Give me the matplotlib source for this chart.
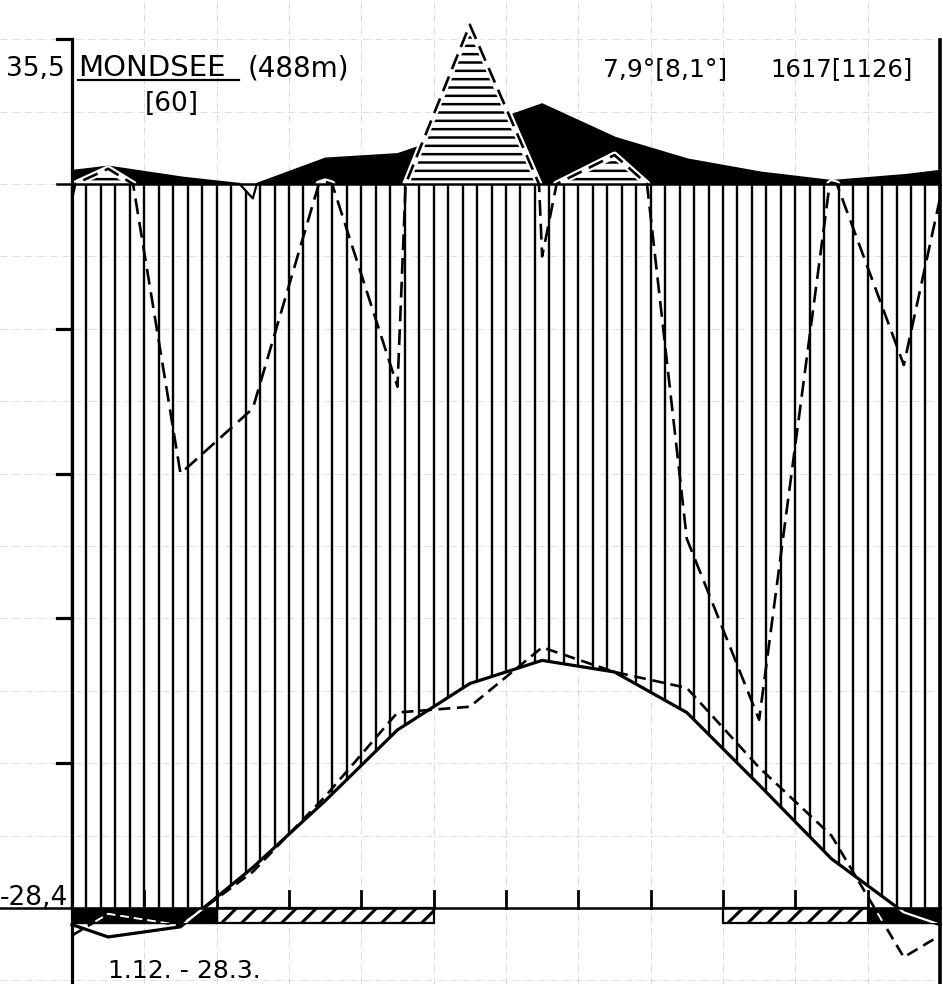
import numpy as np
import matplotlib
matplotlib.use("Agg")
import matplotlib.pyplot as plt
from matplotlib.patches import Rectangle

# ---------------- data ----------------
months = ["J", "F", "M", "A", "M", "J", "J", "A", "S", "O", "N", "D"]
temp_mean = [-2.0, -1.3, 2.8, 7.4, 12.3, 15.5, 17.1, 16.3, 13.5, 8.5, 3.4, -0.3]   # solid
temp_year = [-0.4, -1.2, 2.5, 7.7, 13.5, 13.9, 18.0, 16.3, 15.2, 9.7, 5.0, -3.4]  # dashed
prec_mean = [124, 109, 98, 135, 141, 175, 210, 164, 134, 116, 104, 112]            # solid / black
prec_year = [121, 60, 69, 103, 72, 320, 90, 140, 51, 26, 102, 75]                   # dashed
frost_black_months = [0, 1, 11]          # mean daily minimum below 0
frost_hatched_months = [2, 3, 4, 9, 10]  # absolute minimum below 0

station = "MONDSEE"
elevation = "(488m)"
years = "[60]"
temp_label = "7,9°[8,1°]"
prec_label = "1617[1126]"
abs_max = "35,5"
abs_min = "-28,4"
frost_period = "1.12. - 28.3."

plt.rcParams["font.family"] = ["DejaVu Sans"]

# ---------------- helpers ----------------
PXM = 72.33   # px per month
PXT = 14.48   # px per degree


def X(px):
    return (px - 72) / PXM


def Y(py):
    return (908 - py) / PXT


def pscale(p):
    p = np.asarray(p, float)
    return np.where(p <= 100, p / 2.0, 50 + (p - 100) / 20.0)


def ext(v):
    v = np.asarray(v, float)
    edge = (v[0] + v[-1]) / 2
    return np.r_[edge, v, edge]


xm = np.r_[0, np.arange(12) + 0.5, 12]
T_m = ext(temp_mean)
T_y = ext(temp_year)

xf = np.linspace(0, 12, 4801)
P_m_f = pscale(np.interp(xf, xm, ext(prec_mean)))   # interpolate in mm, then scale
P_y_f = pscale(np.interp(xf, xm, ext(prec_year)))

fig = plt.figure(figsize=(9.43, 9.84), dpi=100)
ax = fig.add_axes([0, 0, 1, 1])
ax.set_xlim(X(0), X(943))
ax.set_ylim(Y(984), Y(0))
ax.axis("off")

# faint background grid (paper grid of the scan)
gls = (0, (8, 3, 1, 3))
for m in range(1, 12):
    ax.plot([m, m], [Y(984), Y(0)], color="#d2d2d2", lw=0.6, ls=gls, zorder=0.5)
for t in range(-5, 61, 5):
    ax.plot([X(0), 12], [t, t], color="#d8d8d8", lw=0.6, ls=gls, zorder=0.5)

# vertical hatching (humid period)
xh = np.arange(0, 12.0001, 0.2)
bot = np.maximum(np.interp(xh, xm, T_m), 0)
top = np.minimum(np.interp(xh, xf, P_m_f), 50)
mask = top > bot
ax.vlines(xh[mask], bot[mask], top[mask], color="k", lw=1.7, zorder=2)

# black precipitation > 100 mm
ax.fill_between(xf, 50, np.maximum(P_m_f, 50), color="k", lw=0, zorder=3)
ax.plot(xf, P_m_f, color="k", lw=1.6, zorder=3.5)

# dashed (single-year) precipitation, horizontally hatched above 100 mm
plt.rcParams["hatch.linewidth"] = 1.8
ax.fill_between(xf, 50, np.maximum(P_y_f, 50), where=P_y_f > 50, interpolate=True,
                facecolor="white", edgecolor="k", hatch="--", lw=0, zorder=4)
halo, = ax.plot(xf, P_y_f, color="white", lw=5, zorder=4.5)
halo.set_clip_path(Rectangle((-1, 50), 14, 20, transform=ax.transData))
ax.plot(xf, P_y_f, color="k", lw=1.9, ls=(0, (6, 3)), zorder=5)

# temperature curves
ax.plot(xm, T_m, color="k", lw=2.3, zorder=6)
ax.plot(xm, T_y, color="k", lw=1.9, ls=(0, (4.5, 2.5)), zorder=6)


# frost bars below the zero line
def runs(idx):
    idx = sorted(idx)
    out = []
    for i in idx:
        if out and out[-1][1] == i:
            out[-1][1] = i + 1
        else:
            out.append([i, i + 1])
    return out


BAR_H = 1.03
stripe_step = 20 / PXM
stripe_dx = 15 / PXM
for a, b in runs(frost_hatched_months):
    ax.add_patch(Rectangle((a, -BAR_H), b - a, BAR_H, facecolor="white",
                           edgecolor="none", zorder=7))
    clip = Rectangle((a, -BAR_H), b - a, BAR_H, transform=ax.transData)
    for x0 in np.arange(a - stripe_dx, b, stripe_step):
        ln, = ax.plot([x0, x0 + stripe_dx], [-BAR_H, 0], color="k", lw=2.2,
                      zorder=7.2, solid_capstyle="butt")
        ln.set_clip_path(clip)
    ax.add_patch(Rectangle((a, -BAR_H), b - a, BAR_H, facecolor="none",
                           edgecolor="k", lw=1.6, zorder=7.4))
for a, b in runs(frost_black_months):
    ax.add_patch(Rectangle((a, -BAR_H), b - a, BAR_H, facecolor="k",
                           edgecolor="k", lw=1.0, zorder=7.5))
    clip = Rectangle((a, -BAR_H), b - a, BAR_H, transform=ax.transData)
    l1, = ax.plot(xm, T_m, color="white", lw=1.6, zorder=8)
    l2, = ax.plot(xm, T_y, color="white", lw=1.4, ls=(0, (4.5, 2.5)), zorder=8)
    l1.set_clip_path(clip)
    l2.set_clip_path(clip)

# axes frame
ax.plot([0, 0], [Y(984), 60], color="k", lw=2.3, zorder=9)
ax.plot([12, 12], [Y(984), Y(40)], color="k", lw=2.6, zorder=9)
ax.plot([X(0), 12], [0, 0], color="k", lw=1.8, zorder=9)
ax.plot([X(57), 12], [50, 50], color="k", lw=1.8, zorder=9)
for t in [10, 20, 30, 40, 60]:
    ax.plot([X(57), 0], [t, t], color="k", lw=2.3, zorder=9)
for m in range(1, 12):
    ax.plot([m, m], [0, 1.15], color="k", lw=2.0, zorder=9)

# texts
fs = 19
ax.text(X(6), Y(76), abs_max, fontsize=fs, ha="left", va="baseline", zorder=10)
ax.text(X(78), Y(76), station, fontsize=21, ha="left", va="baseline", zorder=10)
ax.plot([X(78), X(239)], [Y(80), Y(80)], color="k", lw=1.6, zorder=10)
ax.text(X(248), Y(76), elevation, fontsize=20, ha="left", va="baseline", zorder=10)
ax.text(X(145), Y(111), years, fontsize=fs, ha="left", va="baseline", zorder=10)
ax.text(X(603), Y(76), temp_label, fontsize=18, ha="left", va="baseline", zorder=10)
ax.text(X(770), Y(76), prec_label, fontsize=17.5, ha="left", va="baseline", zorder=10)
ax.text(X(0), Y(905), abs_min, fontsize=fs, ha="left", va="baseline", zorder=10)
ax.text(X(108), Y(978), frost_period, fontsize=18, ha="left", va="baseline", zorder=10)

fig.savefig("out.png", dpi=100, facecolor="white")
